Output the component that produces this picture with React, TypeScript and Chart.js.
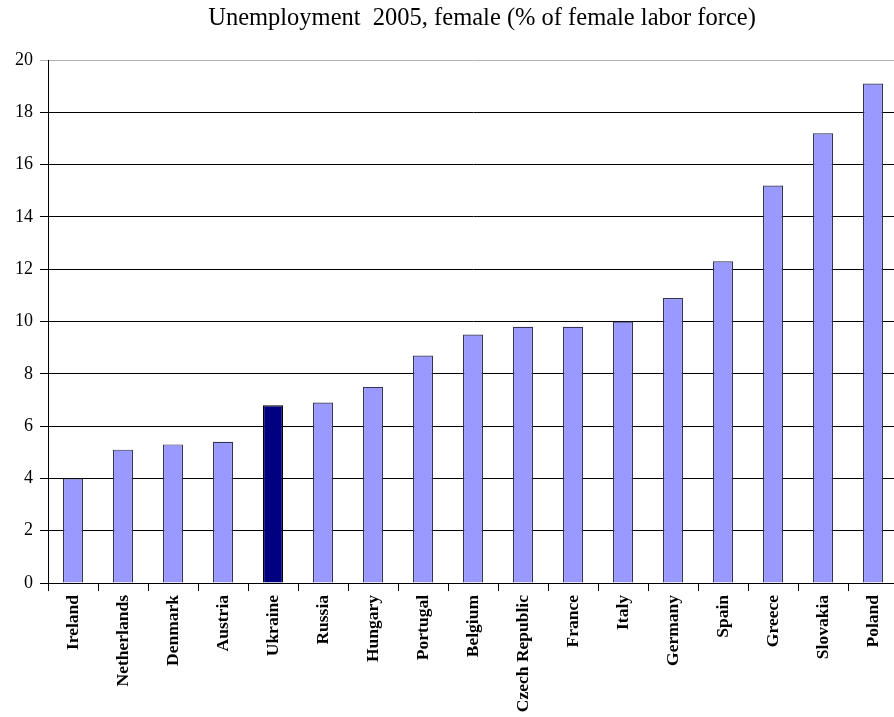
import React, { useEffect, useRef } from "react";
import { Chart, registerables } from "chart.js";

Chart.register(...registerables);

const categories = [
  "Ireland", "Netherlands", "Denmark", "Austria", "Ukraine", "Russia", "Hungary",
  "Portugal", "Belgium", "Czech Republic", "France", "Italy", "Germany", "Spain",
  "Greece", "Slovakia", "Poland",
];
const values = [4.0, 5.1, 5.3, 5.4, 6.8, 6.9, 7.5, 8.7, 9.5, 9.8, 9.8, 10.0, 10.9, 12.3, 15.2, 17.2, 19.1];
const highlighted = "Ukraine";
const titleText = "Unemployment  2005, female (% of female labor force)";

const titlePlugin = {
  id: "customTitle",
  afterDraw(chart: any) {
    const { ctx, chartArea } = chart;
    ctx.save();
    ctx.font = "24.5px 'Liberation Serif'";
    ctx.fillStyle = "#000";
    ctx.textAlign = "center";
    ctx.textBaseline = "middle";
    ctx.fillText(titleText, (chartArea.left + chartArea.right) / 2 + 9, 19);
    ctx.restore();
  },
};

export default function App() {
  const ref = useRef<HTMLCanvasElement | null>(null);
  useEffect(() => {
    document.body.style.overflow = "hidden";
    const canvas = ref.current;
    if (!canvas) return;
    const chart = new Chart(canvas, {
      type: "bar",
      data: {
        labels: categories,
        datasets: [
          {
            data: values,
            backgroundColor: categories.map((c) => (c === highlighted ? "#000080" : "#9999FF")),
            borderColor: categories.map((c) => (c === highlighted ? "#000000" : "#333355")),
            borderWidth: 1.2,
            categoryPercentage: 0.8,
            barPercentage: 0.5,
          },
        ],
      },
      plugins: [titlePlugin],
      options: {
        responsive: false,
        animation: false,
        layout: { padding: { left: 0, right: 2, top: 60, bottom: 0 } },
        plugins: {
          legend: { display: false },
          tooltip: { enabled: false },
          title: { display: false },
        },
        scales: {
          x: {
            afterFit: (s: any) => { s.height = 134; },
            grid: {
              display: true,
              offset: true,
              drawOnChartArea: false,
              drawTicks: true,
              tickLength: 8,
              color: "#000",
            },
            border: { display: true, color: "#000" },
            ticks: {
              color: "#000",
              minRotation: 90,
              maxRotation: 90,
              autoSkip: false,
              padding: 4,
              font: { family: "Liberation Serif", size: 17.5, weight: "bold" },
            },
          },
          y: {
            min: 0,
            max: 20,
            afterFit: (s: any) => { s.width = 48; },
            grid: {
              color: (ctx: any) => (ctx.tick && ctx.tick.value === 20 ? "#b0b0b0" : "#000"),
              tickLength: 8,
              lineWidth: 1,
            },
            border: { display: true, color: "#000" },
            ticks: {
              stepSize: 2,
              color: "#000",
              padding: 7,
              font: { family: "Liberation Serif", size: 18 },
            },
          },
        },
      },
    });
    return () => chart.destroy();
  }, []);
  return (
    <div style={{ position: "absolute", left: 0, top: 0, width: 900, height: 717 }}>
      <canvas ref={ref} width={900} height={717} style={{ width: 900, height: 717 }} />
    </div>
  );
}
